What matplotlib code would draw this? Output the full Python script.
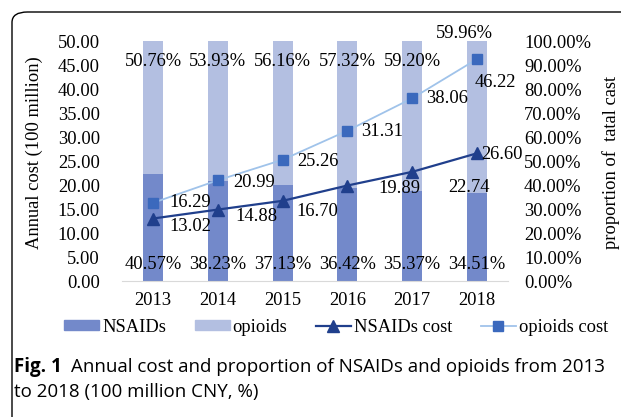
import matplotlib.pyplot as plt
import numpy as np
from matplotlib.patches import FancyBboxPatch
from matplotlib.lines import Line2D
from matplotlib.patches import Patch

# data
years = ['2013', '2014', '2015', '2016', '2017', '2018']
nsaid_share = [40.57, 38.23, 37.13, 36.42, 35.37, 34.51]   # % of total cost
opioid_share = [50.76, 53.93, 56.16, 57.32, 59.20, 59.96]  # % of total cost
nsaid_cost = [13.02, 14.88, 16.70, 19.89, 22.74, 26.60]    # 100 million CNY
opioid_cost = [16.29, 20.99, 25.26, 31.31, 38.06, 46.22]
left_ticks = [0, 5, 10, 15, 20, 25, 30, 35, 40, 45, 50]
right_ticks = [0, 10, 20, 30, 40, 50, 60, 70, 80, 90, 100]

c_nsaid_bar = '#7389ca'
c_opioid_bar = '#b3bfe1'
c_nsaid_line = '#203f8c'
c_opioid_line = '#a0c3ea'
c_opioid_mark = '#3b69bd'

plt.rcParams['font.family'] = ['Liberation Serif', 'DejaVu Serif']
fs = 13.3

W, H = 621, 417
fig = plt.figure(figsize=(W / 100, H / 100), dpi=100)

# rounded frame around the figure
frame = FancyBboxPatch((12 / W, -0.3), 1.2, 1 - 12 / H + 0.3, transform=fig.transFigure,
                       boxstyle='round,pad=0,rounding_size=0.025',
                       fill=False, ec='black', lw=1.0)
fig.patches.append(frame)

ax = fig.add_axes([122 / W, 1 - 281 / H, 386 / W, 240 / H])
ax2 = ax.twinx()
ax.set_zorder(ax2.get_zorder() + 1)
ax.patch.set_visible(False)

x = np.arange(len(years))
n = np.array(nsaid_share)
o = np.array(opioid_share)
n_norm = n / (n + o) * 100
o_norm = 100 - n_norm
bw = 0.31
ax2.bar(x, n_norm, bw, color=c_nsaid_bar, label='NSAIDs')
ax2.bar(x, o_norm, bw, bottom=n_norm, color=c_opioid_bar, label='opioids')

# bar labels
for i in range(len(years)):
    ax2.text(x[i], 6.7, '%.2f%%' % nsaid_share[i], ha='center', va='center', fontsize=fs)
    if i < len(years) - 1:
        ax2.text(x[i], 91.3, '%.2f%%' % opioid_share[i], ha='center', va='center', fontsize=fs)
    else:
        ax2.text(x[i] - 0.19, 103.3, '%.2f%%' % opioid_share[i], ha='center', va='center',
                 fontsize=fs, clip_on=False)

ax.plot(x, opioid_cost, color=c_opioid_line, lw=1.3, marker='s', ms=7.5,
        mfc=c_opioid_mark, mec=c_opioid_mark, label='opioids cost')
ax.plot(x, nsaid_cost, color=c_nsaid_line, lw=1.6, marker='^', ms=8,
        mfc=c_nsaid_line, mec=c_nsaid_line, label='NSAIDs cost')

op_off = [(37, 0), (36, -2), (35, -2), (35, -1), (35, 0), (18, -23)]
ns_off = [(37, -7.5), (39, -7.4), (35, -11), (52, -2.5), (57, -16), (25, -1)]
for i in range(len(years)):
    ax.annotate('%.2f' % opioid_cost[i], (x[i], opioid_cost[i]), xytext=op_off[i],
                textcoords='offset pixels', ha='center', va='center', fontsize=fs)
    ax.annotate('%.2f' % nsaid_cost[i], (x[i], nsaid_cost[i]), xytext=ns_off[i],
                textcoords='offset pixels', ha='center', va='center', fontsize=fs)

ax.set_xlim(-0.48, 5.48)
ax.set_ylim(0, 50)
ax2.set_ylim(0, 100)
ax.set_xticks(x)
ax.set_xticklabels(years)
ax.set_yticks(left_ticks)
ax.set_yticklabels(['%.2f' % v for v in left_ticks])
ax2.set_yticks(right_ticks)
ax2.set_yticklabels(['%.2f%%' % v for v in right_ticks])

for a in (ax, ax2):
    for s in a.spines.values():
        s.set_visible(False)
    a.tick_params(length=0, labelsize=fs)
ax2.spines['bottom'].set_visible(True)
ax2.spines['bottom'].set_color('#d9d9d9')
ax.tick_params(axis='y', pad=16)
ax.tick_params(axis='x', pad=8)
ax2.tick_params(axis='y', pad=11.5)

ax.set_ylabel('Annual cost (100 million)', fontsize=fs)
ax.yaxis.set_label_coords(-0.205, 0.533)
ax2.set_ylabel('proportion of  tatal cast', fontsize=fs, rotation=90)
ax2.yaxis.set_label_coords(1.2435, 0.496)

handles = [Patch(color=c_nsaid_bar), Patch(color=c_opioid_bar),
           Line2D([], [], color=c_nsaid_line, lw=1.6, marker='^', ms=8),
           Line2D([], [], color=c_opioid_line, lw=1.3, marker='s', ms=7.5,
                  mfc=c_opioid_mark, mec=c_opioid_mark)]
labels = ['NSAIDs', 'opioids', 'NSAIDs cost', 'opioids cost']
fig.legend(handles, labels, loc='center', bbox_to_anchor=(336 / W, 1 - 327 / H), ncol=4,
           frameon=False, fontsize=fs, handlelength=1.9, handleheight=0.5,
           handletextpad=0.15, columnspacing=1.55)

# caption
cap_font = ['Open Sans', 'DejaVu Sans']
t1 = fig.text(14 / W, 1 - 367 / H, 'Fig. 1', fontsize=13.5, fontweight='bold',
              family=cap_font, va='center')
fig.canvas.draw()
bb = t1.get_window_extent()
fig.text((bb.x1 + 9) / W, 1 - 367 / H, 'Annual cost and proportion of NSAIDs and opioids from 2013',
         fontsize=13.5, family=cap_font, va='center')
fig.text(14 / W, 1 - 392 / H, 'to 2018 (100 million CNY, %)', fontsize=13.5,
         family=cap_font, va='center')

fig.savefig('out.png', dpi=100)
